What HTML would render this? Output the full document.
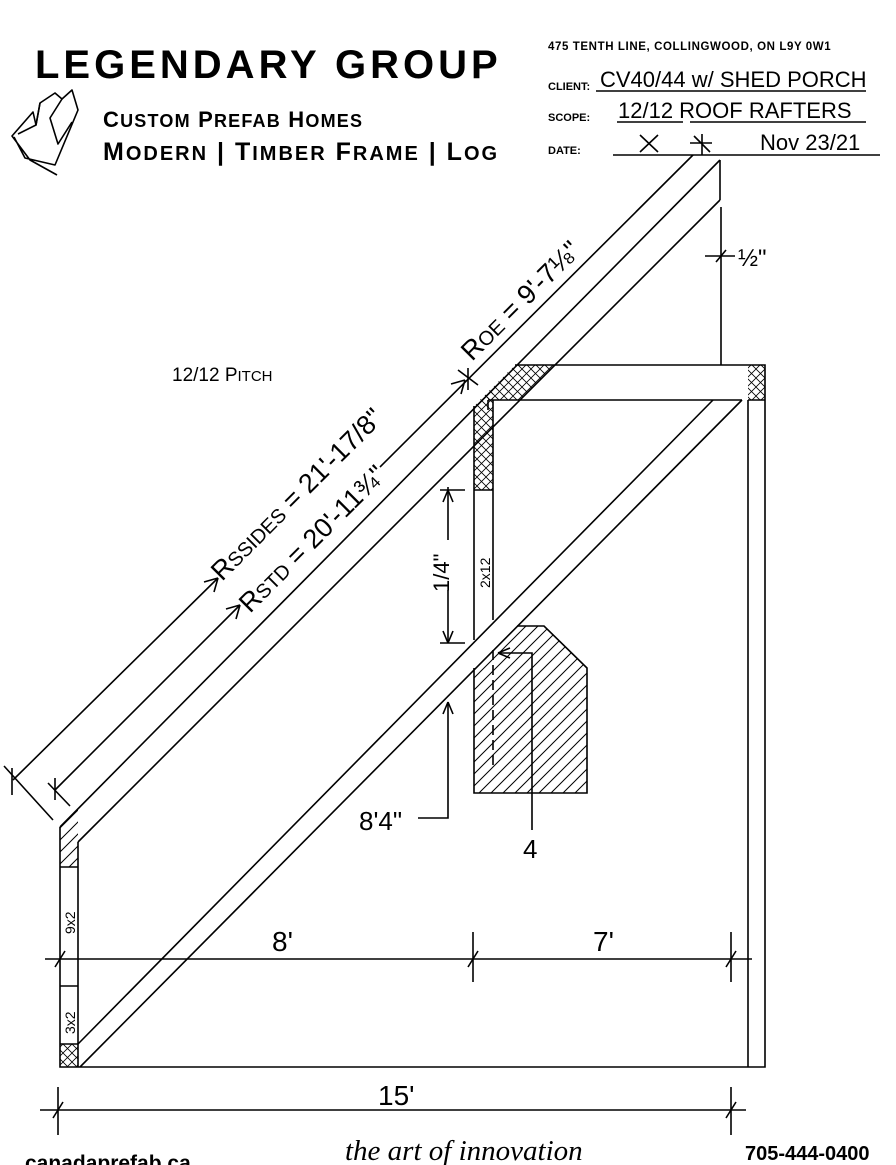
<!DOCTYPE html>
<html><head><meta charset="utf-8"><style>
html,body{margin:0;padding:0;background:#fff;}
svg{display:block;}
.h{font-family:"Liberation Sans Narrow","Liberation Sans",sans-serif;}
</style></head><body>
<svg width="896" height="1165" viewBox="0 0 896 1165" xmlns="http://www.w3.org/2000/svg">
<defs>
<pattern id="ch" width="9" height="9" patternUnits="userSpaceOnUse"><path d="M0 0L9 9M9 0L0 9" stroke="#000" stroke-width="0.8"/></pattern>
<pattern id="dh" width="12" height="12" patternUnits="userSpaceOnUse"><path d="M0 12L12 0M-3 3L3 -3M9 15L15 9" stroke="#000" stroke-width="1"/></pattern>
</defs>
<g fill="none" stroke="#000" stroke-width="1.6" stroke-linejoin="round">
<polyline points="57,175 30,160 12,136 33,112 36,125 40,103 55,93 62,99 72,90 78,110 55,165 25,158 14,137"/>
<polyline points="62,99 50,118 58,144 72,122"/>
<polyline points="40,103 36,125 18,134"/>
</g>
<text x="35" y="78" font-family="Liberation Sans" font-weight="bold" font-size="40" letter-spacing="4">LEGENDARY GROUP</text>
<text x="103" y="127" font-family="Liberation Sans" font-weight="bold" font-size="22" letter-spacing="1.2">C<tspan font-size="18">USTOM</tspan> P<tspan font-size="18">REFAB</tspan> H<tspan font-size="18">OMES</tspan></text>
<text x="103" y="160" font-family="Liberation Sans" font-weight="bold" font-size="25" letter-spacing="2">M<tspan font-size="20">ODERN</tspan> | T<tspan font-size="20">IMBER</tspan> F<tspan font-size="20">RAME</tspan> | L<tspan font-size="20">OG</tspan></text>
<text x="548" y="50" font-family="Liberation Sans" font-weight="bold" font-size="11.5" letter-spacing="0.6">475 TENTH LINE, COLLINGWOOD, ON L9Y 0W1</text>
<text x="548" y="90" font-family="Liberation Sans" font-weight="bold" font-size="11">CLIENT:</text>
<text x="548" y="121" font-family="Liberation Sans" font-weight="bold" font-size="11">SCOPE:</text>
<text x="548" y="154" font-family="Liberation Sans" font-weight="bold" font-size="11">DATE:</text>
<g stroke="#000" stroke-width="1.6">
<line x1="596" y1="91" x2="866" y2="91"/>
<line x1="617" y1="122" x2="683" y2="122"/>
<line x1="690" y1="122" x2="866" y2="122"/>
<line x1="613" y1="155" x2="880" y2="155"/>
<path d="M640 135L658 152M658 135L640 152M690 143L712 143M702 134L702 155M694 136L710 152" fill="none"/>
</g>
<g class="h" font-size="22">
<text x="600" y="87">CV40/44 w/ SHED PORCH</text>
<text x="618" y="118">12/12 ROOF RAFTERS</text>
<text x="760" y="150">Nov 23/21</text>
</g>
<g fill="none" stroke="#000" stroke-width="1.6">
<polygon points="60,827 78,809 78,867 60,867" fill="url(#dh)" stroke="none"/>
<rect x="60" y="1044" width="18" height="23" fill="url(#ch)" stroke="none"/>
<polygon points="515,365 555,365 520,400 480,400" fill="url(#ch)" stroke="none"/>
<rect x="748" y="365" width="17" height="35" fill="url(#ch)" stroke="none"/>
<polygon points="474,406 493,387 493,490 474,490" fill="url(#ch)" stroke="none"/>
<polygon points="474,668 517,626 544,626 587,668 587,793 474,793" fill="url(#dh)" stroke="none"/>
<polyline points="60,827 60,1067 765,1067 765,365 515,365"/>
<line x1="78" y1="842" x2="78" y2="1067"/>
<line x1="60" y1="867" x2="78" y2="867"/>
<line x1="60" y1="986" x2="78" y2="986"/>
<line x1="60" y1="1044" x2="78" y2="1044"/>
<line x1="748" y1="400" x2="748" y2="1067"/>
<line x1="748" y1="400" x2="765" y2="400"/>
<line x1="60" y1="827" x2="720" y2="160"/>
<line x1="78" y1="842" x2="720" y2="200"/>
<line x1="720" y1="160" x2="720" y2="200"/>
<line x1="721" y1="207" x2="721" y2="365"/>
<line x1="488" y1="400" x2="742" y2="400"/>
<line x1="78" y1="1044" x2="713" y2="400"/>
<line x1="80" y1="1067" x2="742" y2="400"/>
<line x1="474" y1="406" x2="474" y2="640"/>
<line x1="493" y1="400" x2="493" y2="620"/>
<line x1="488" y1="400" x2="488" y2="410"/>
<line x1="474" y1="490" x2="493" y2="490"/>
<polyline points="517,626 544,626 587,668 587,793 474,793 474,668"/>
<line x1="493" y1="650" x2="493" y2="765" stroke-dasharray="10,5"/>
<polyline points="498,653 532,653 532,830"/>
<path d="M498 653L510 648M498 653L510 658"/>
<line x1="13" y1="780" x2="218" y2="578"/>
<path d="M218 578L204 582M218 578L214 592"/>
<line x1="55" y1="790" x2="240" y2="605"/>
<path d="M240 605L226 609M240 605L236 619"/>
<line x1="380" y1="467" x2="693" y2="155"/>
<path d="M465 380L451 384M465 380L461 394"/>
<line x1="4" y1="766" x2="53" y2="820"/>
<line x1="12" y1="768" x2="12" y2="795"/>
<line x1="48" y1="783" x2="70" y2="806"/>
<line x1="55" y1="778" x2="55" y2="800"/>
<line x1="468" y1="368" x2="468" y2="390"/>
<line x1="458" y1="370" x2="478" y2="385"/>
<line x1="705" y1="256" x2="735" y2="256"/>
<line x1="716" y1="262" x2="726" y2="250"/>
<line x1="448" y1="487" x2="448" y2="540"/>
<line x1="448" y1="590" x2="448" y2="643"/>
<line x1="440" y1="490" x2="465" y2="490"/>
<line x1="440" y1="643" x2="465" y2="643"/>
<path d="M448 490L443 502M448 490L453 502M448 643L443 631M448 643L453 631"/>
<polyline points="448,702 448,818 418,818"/>
<path d="M448 702L443 714M448 702L453 714"/>
<line x1="45" y1="959" x2="752" y2="959"/>
<line x1="473" y1="932" x2="473" y2="982"/>
<line x1="731" y1="932" x2="731" y2="982"/>
<path d="M55 967L65 951M468 967L478 951M726 967L736 951"/>
<line x1="40" y1="1110" x2="746" y2="1110"/>
<line x1="58" y1="1087" x2="58" y2="1135"/>
<line x1="731" y1="1087" x2="731" y2="1135"/>
<path d="M53 1118L63 1102M726 1118L736 1102"/>
</g>
<g class="h">
<text x="172" y="381" font-size="19">12/12 P<tspan font-size="15">ITCH</tspan></text>
<text transform="translate(222,582) rotate(-45)" font-size="27">R<tspan font-size="20">SSIDES</tspan> = 21'-17/8"</text>
<text transform="translate(250,614) rotate(-45)" font-size="27">R<tspan font-size="20">STD</tspan> = 20'-11¾"</text>
<text transform="translate(472,362) rotate(-45)" font-size="27">R<tspan font-size="20">OE</tspan> = 9'-7⅛"</text>
<text x="738" y="266" font-size="24">½"</text>
<text transform="translate(449,592) rotate(-90)" font-size="22">1/4"</text>
<text transform="translate(490,588) rotate(-90)" font-size="14">2x12</text>
<text transform="translate(75,934) rotate(-90)" font-size="14">9x2</text>
<text transform="translate(75,1034) rotate(-90)" font-size="14">3x2</text>
<text x="359" y="830" font-size="26">8'4"</text>
<text x="523" y="858" font-size="26">4</text>
<text x="272" y="951" font-size="28">8'</text>
<text x="593" y="951" font-size="28">7'</text>
<text x="378" y="1105" font-size="28">15'</text>
</g>
<text x="25" y="1170" font-family="Liberation Sans" font-weight="bold" font-size="21">canadaprefab.ca</text>
<text x="345" y="1160" font-family="Liberation Serif" font-style="italic" font-size="29">the art of innovation</text>
<text x="745" y="1160" font-family="Liberation Sans" font-weight="bold" font-size="20">705-444-0400</text>
</svg>
</body></html>
